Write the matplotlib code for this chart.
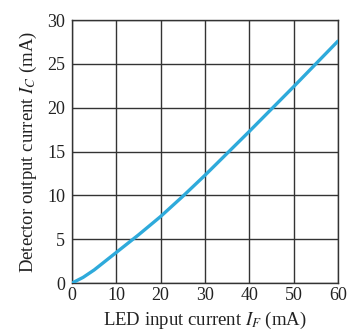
import matplotlib
matplotlib.use("Agg")
import matplotlib.pyplot as plt

# LED input current I_F (mA) vs detector output current I_C (mA)
led_current = [0, 2.5, 5, 7.5, 10, 15, 20, 25, 30, 35, 40, 45, 50, 55, 60]
detector_current = [0, 0.65, 1.5, 2.5, 3.5, 5.5, 7.6, 9.9, 12.3, 14.8, 17.3, 19.85, 22.4, 25.0, 27.6]

x_ticks = [0, 10, 20, 30, 40, 50, 60]
y_ticks = [0, 5, 10, 15, 20, 25, 30]

plt.rcParams['font.family'] = 'Liberation Serif'
plt.rcParams['mathtext.fontset'] = 'stix'

fig = plt.figure(figsize=(3.48, 3.35), dpi=100)
ax = fig.add_axes([0.207, 0.155, 0.764, 0.785])

ax.plot(led_current, detector_current, color='#2eaadb', linewidth=2.4,
        solid_capstyle='round', solid_joinstyle='round', zorder=3)

ax.set_xlim(0, 60)
ax.set_ylim(0, 30)
ax.set_xticks(x_ticks)
ax.set_yticks(y_ticks)
ax.grid(True, color='#333333', linewidth=1.0)
ax.tick_params(axis='y', length=0, labelsize=13, pad=5, colors='#222222')
ax.tick_params(axis='x', length=0, labelsize=13, pad=3, colors='#222222')
for s in ax.spines.values():
    s.set_color('#333333')
    s.set_linewidth(1.0)

ax.set_xlabel('LED input current $I_F$ (mA)', fontsize=13.5, labelpad=4, color='#222222')
ax.set_ylabel('Detector output current $I_C$ (mA)', fontsize=13.5, labelpad=6, color='#222222')

fig.savefig('out.png', dpi=100)
